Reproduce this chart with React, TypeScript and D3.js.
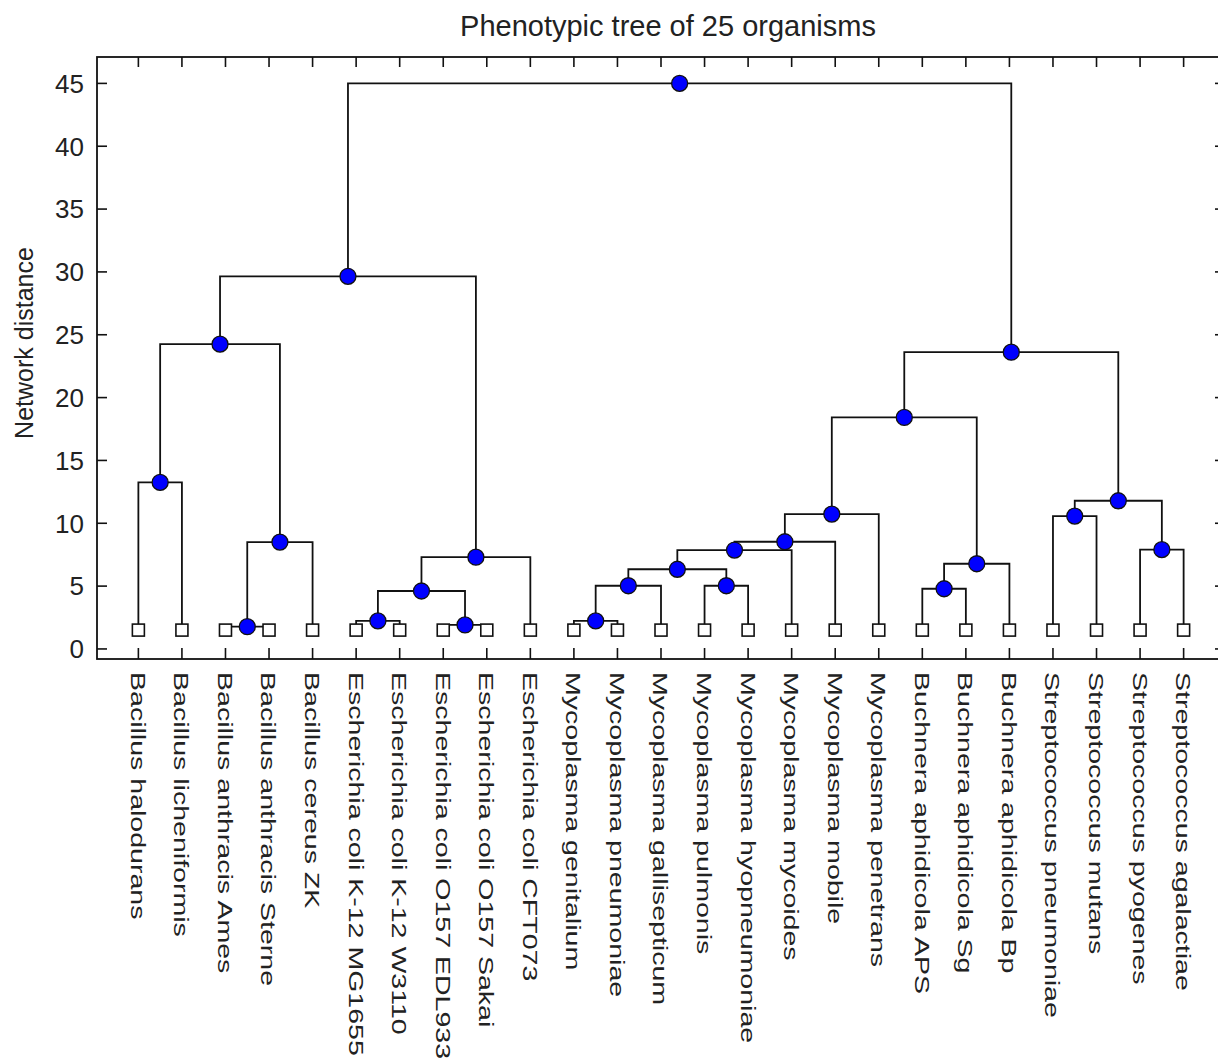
import { useEffect, useRef } from 'react'
import * as d3 from 'd3'

const W = 1218
const H = 1063
const FRAME = { left: 97, top: 57, right: 1225, bottom: 659 }

// leaf order as drawn left to right
const leaves = [
  'Bacillus halodurans', 'Bacillus licheniformis', 'Bacillus anthracis Ames', 'Bacillus anthracis Sterne',
  'Bacillus cereus ZK', 'Escherichia coli K-12 MG1655', 'Escherichia coli K-12 W3110',
  'Escherichia coli O157 EDL933', 'Escherichia coli O157 Sakai', 'Escherichia coli CFT073',
  'Mycoplasma genitalium', 'Mycoplasma pneumoniae', 'Mycoplasma gallisepticum', 'Mycoplasma pulmonis',
  'Mycoplasma hyopneumoniae', 'Mycoplasma mycoides', 'Mycoplasma mobile', 'Mycoplasma penetrans',
  'Buchnera aphidicola APS', 'Buchnera aphidicola Sg', 'Buchnera aphidicola Bp',
  'Streptococcus pneumoniae', 'Streptococcus mutans', 'Streptococcus pyogenes', 'Streptococcus agalactiae',
]

// linkage: leaves are 0..24, merge i creates node 25 + i
const mergePairs = [
  [0, 1], [2, 3], [26, 4], [25, 27], [5, 6], [7, 8], [29, 30], [31, 9], [28, 32],
  [10, 11], [34, 12], [13, 14], [35, 36], [37, 15], [38, 16], [39, 17],
  [18, 19], [41, 20], [40, 42], [21, 22], [23, 24], [44, 45], [43, 46], [33, 47],
]
const mergeHeights = [
  13.25, 1.77, 8.5, 24.25, 2.23, 1.91, 4.61, 7.3, 29.65,
  2.23, 5.03, 5.03, 6.34, 7.87, 8.53, 10.73,
  4.79, 6.78, 18.42, 10.57, 7.9, 11.79, 23.61, 45.0,
]
const leafLevel = 1.5
const yTicks = [0, 5, 10, 15, 20, 25, 30, 35, 40, 45]

export default function App() {
  const svgRef = useRef(null)

  useEffect(() => {
    const svg = d3.select(svgRef.current)
    svg.selectAll('*').remove()

    const x = d3.scaleLinear().domain([0.05, 25.95]).range([FRAME.left, FRAME.right])
    const y = d3.scaleLinear().domain([-0.8, 47.1]).range([FRAME.bottom, FRAME.top])

    // node positions
    const nodes = leaves.map((name, i) => ({ x: i + 1, h: leafLevel, leaf: true }))
    mergePairs.forEach(([a, b], i) => {
      nodes.push({ x: (nodes[a].x + nodes[b].x) / 2, h: mergeHeights[i], leaf: false })
    })

    const font = '"Liberation Sans", Arial, sans-serif'
    const ink = '#111'

    // frame
    svg.append('rect')
      .attr('x', FRAME.left).attr('y', FRAME.top)
      .attr('width', FRAME.right - FRAME.left).attr('height', FRAME.bottom - FRAME.top)
      .attr('fill', 'none').attr('stroke', ink).attr('stroke-width', 1.8)

    // x ticks top + bottom
    leaves.forEach((_, i) => {
      const px = x(i + 1)
      svg.append('line').attr('x1', px).attr('x2', px).attr('y1', FRAME.bottom).attr('y2', FRAME.bottom - 11)
        .attr('stroke', ink).attr('stroke-width', 1.6)
      svg.append('line').attr('x1', px).attr('x2', px).attr('y1', FRAME.top).attr('y2', FRAME.top + 10)
        .attr('stroke', ink).attr('stroke-width', 1.6)
    })

    // y ticks left + right
    yTicks.forEach(t => {
      const py = y(t)
      svg.append('line').attr('x1', FRAME.left).attr('x2', FRAME.left + 10).attr('y1', py).attr('y2', py)
        .attr('stroke', ink).attr('stroke-width', 1.6)
      svg.append('line').attr('x1', FRAME.right).attr('x2', FRAME.right - 10).attr('y1', py).attr('y2', py)
        .attr('stroke', ink).attr('stroke-width', 1.6)
      svg.append('text')
        .attr('x', 84).attr('y', py).attr('dy', '0.36em')
        .attr('text-anchor', 'end')
        .attr('font-family', font).attr('font-size', 26).attr('fill', '#222')
        .text(t)
    })

    // dendrogram links
    const g = svg.append('g').attr('fill', 'none').attr('stroke', ink).attr('stroke-width', 1.8)
    mergePairs.forEach(([a, b], i) => {
      const p = nodes[25 + i]
      const ca = nodes[a]
      const cb = nodes[b]
      const path = d3.path()
      path.moveTo(x(ca.x), y(ca.h))
      path.lineTo(x(ca.x), y(p.h))
      path.lineTo(x(cb.x), y(p.h))
      path.lineTo(x(cb.x), y(cb.h))
      g.append('path').attr('d', path.toString())
    })

    // leaf squares
    svg.selectAll('rect.leaf')
      .data(nodes.filter(n => n.leaf))
      .enter()
      .append('rect')
      .attr('class', 'leaf')
      .attr('x', n => x(n.x) - 6).attr('y', n => y(n.h) - 6)
      .attr('width', 12).attr('height', 12)
      .attr('fill', '#fff').attr('stroke', ink).attr('stroke-width', 1.6)

    // merge nodes
    svg.selectAll('circle')
      .data(nodes.filter(n => !n.leaf))
      .enter()
      .append('circle')
      .attr('cx', n => x(n.x)).attr('cy', n => y(n.h))
      .attr('r', 8)
      .attr('fill', '#0000ff').attr('stroke', ink).attr('stroke-width', 1.3)

    // leaf labels, rotated
    leaves.forEach((name, i) => {
      svg.append('text')
        .attr('transform', `translate(${x(i + 1)},672) rotate(90) scale(1.36,1)`)
        .attr('dy', '0.36em')
        .attr('font-family', font).attr('font-size', 21).attr('fill', '#222')
        .text(name)
    })

    // axis label
    svg.append('text')
      .attr('transform', `translate(33,343) rotate(-90)`)
      .attr('text-anchor', 'middle')
      .attr('font-family', font).attr('font-size', 25).attr('fill', '#222')
      .text('Network distance')

    // title
    svg.append('text')
      .attr('x', 668).attr('y', 36)
      .attr('text-anchor', 'middle')
      .attr('font-family', font).attr('font-size', 29).attr('fill', '#222')
      .text('Phenotypic tree of 25 organisms')
  }, [])

  return (
    <svg
      ref={svgRef}
      width={W}
      height={H}
      style={{ position: 'absolute', left: 0, top: 0, background: '#fff', display: 'block' }}
    />
  )
}
